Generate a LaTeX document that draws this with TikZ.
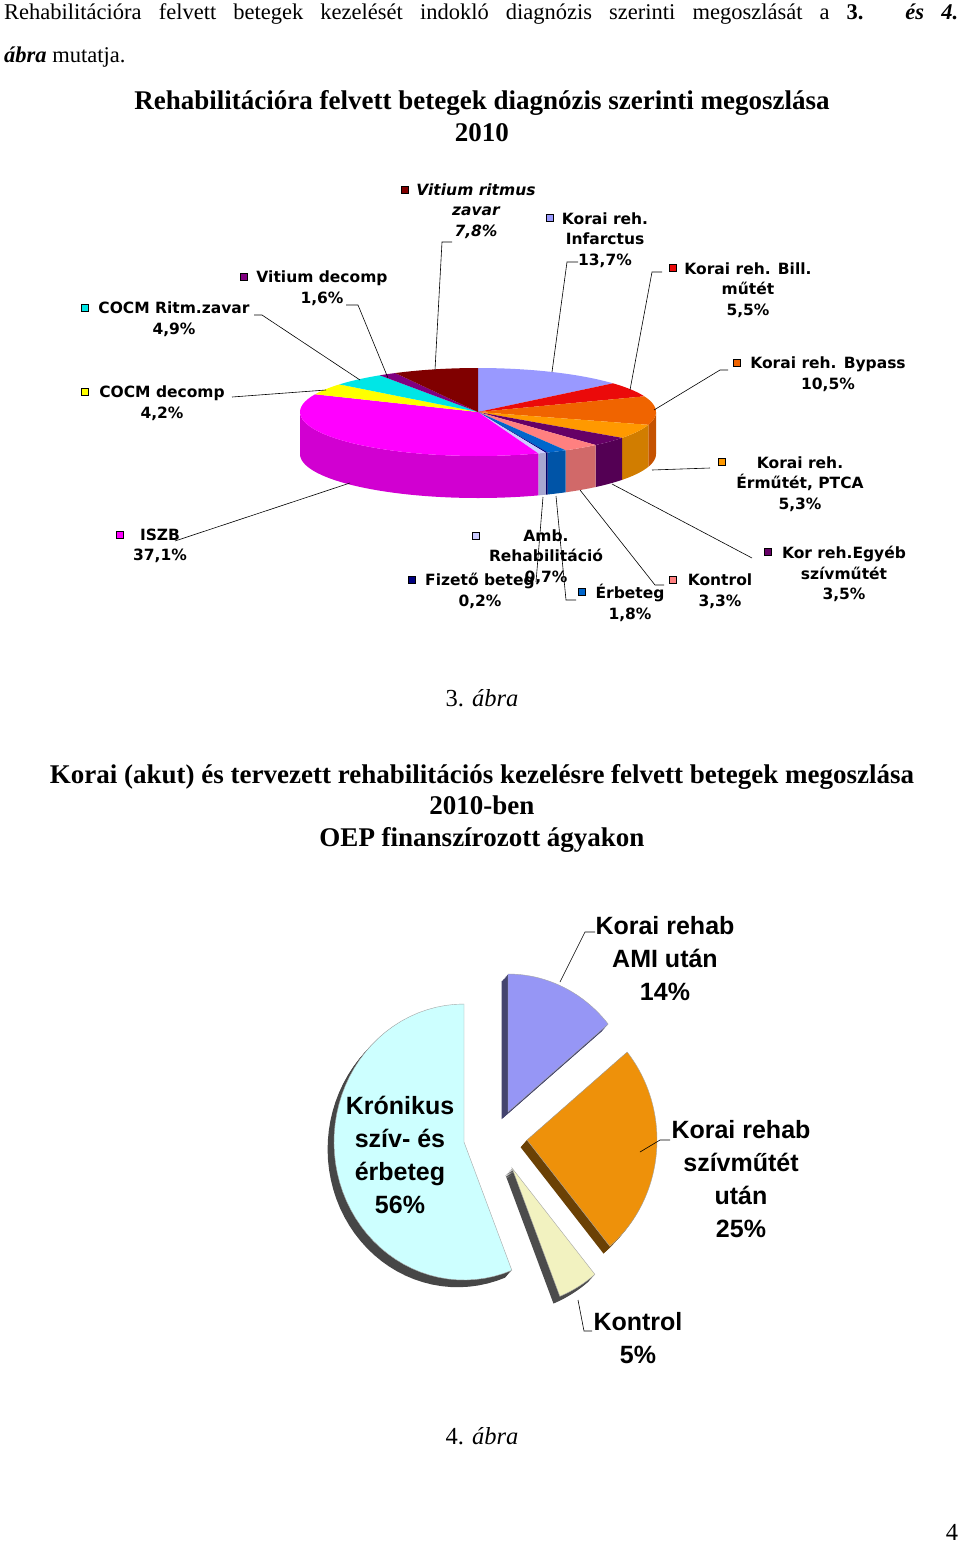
\documentclass[tikz,border=0pt]{standalone}
\usepackage{fontspec}
\setmainfont{Liberation Serif}
\newfontfamily\lab{DejaVu Sans}
\newfontfamily\labb{Liberation Sans}
\begin{document}
\begin{tikzpicture}[x=1pt,y=-1pt,
  lbl/.style={font=\lab\bfseries\fontsize{15.5}{20.5}\selectfont,align=center,inner sep=0pt},
  blbl/.style={font=\labb\bfseries\fontsize{25}{33}\selectfont,align=center,inner sep=0pt},
  lead/.style={draw=black,line width=0.6pt},
  sq/.style={draw=black,line width=0.4pt,minimum size=7pt,inner sep=0pt},
  ttl/.style={font=\bfseries\fontsize{27}{31.5}\selectfont,align=center,inner sep=0pt}]
\useasboundingbox (0,0) rectangle (960,1543);
\fill[white] (0,0) rectangle (960,1543);
% top paragraph
\node[anchor=base west,inner sep=0pt] (par) at (4,19) {\parbox[t]{954pt}{\fontsize{22.5}{43}\selectfont Rehabilitációra felvett betegek kezelését indokló diagnózis szerinti megoszlását a \textbf{3.} \textbf{\textit{és 4.}}\linebreak \textbf{\textit{ábra}} mutatja.}};
\node[ttl] (t1) at (482,116) {Rehabilitációra felvett betegek diagnózis szerinti megoszlása\\2010};
% ---------- pie 1
\def\cx{478}\def\cy{412}\def\rx{178}\def\ry{44}\def\dep{42}
\newcommand\pietop[3]{\fill[#3] (\cx,\cy) -- plot[domain=#1:#2,samples=40] ({\cx+\rx*cos(\x)},{\cy-\ry*sin(\x)}) -- cycle;}
\newcommand\pieside[3]{\fill[#3!82!black] plot[domain=#1:#2,samples=40] ({\cx+\rx*cos(\x)},{\cy-\ry*sin(\x)}) -- plot[domain=#2:#1,samples=40] ({\cx+\rx*cos(\x)},{\cy+\dep-\ry*sin(\x)}) -- cycle;}
\definecolor{cInf}{RGB}{153,153,255}
\definecolor{cBill}{RGB}{235,10,10}
\definecolor{cByp}{RGB}{240,100,0}
\definecolor{cPtca}{RGB}{255,153,0}
\definecolor{cEgy}{RGB}{102,0,102}
\definecolor{cKon}{RGB}{255,128,128}
\definecolor{cErb}{RGB}{0,102,204}
\definecolor{cFiz}{RGB}{0,0,128}
\definecolor{cAmb}{RGB}{204,204,255}
\definecolor{cIszb}{RGB}{255,0,255}
\definecolor{cCd}{RGB}{255,255,0}
\definecolor{cCr}{RGB}{0,230,230}
\definecolor{cVd}{RGB}{128,0,128}
\definecolor{cVr}{RGB}{128,0,0}
\pieside{-16.92}{0}{cByp}
\pieside{-36}{-16.92}{cPtca}
\pieside{-48.6}{-36}{cEgy}
\pieside{-60.48}{-48.6}{cKon}
\pieside{-66.96}{-60.48}{cErb}
\pieside{-67.68}{-66.96}{cFiz}
\pieside{-70.2}{-67.68}{cAmb}
\pieside{-180}{-70.2}{cIszb}
\pietop{40.68}{90}{cInf}
\pietop{20.88}{40.68}{cBill}
\pietop{-16.92}{20.88}{cByp}
\pietop{-36}{-16.92}{cPtca}
\pietop{-48.6}{-36}{cEgy}
\pietop{-60.48}{-48.6}{cKon}
\pietop{-66.96}{-60.48}{cErb}
\pietop{-67.68}{-66.96}{cFiz}
\pietop{-70.2}{-67.68}{cAmb}
\pietop{-203.76}{-70.2}{cIszb}
\pietop{-218.88}{-203.76}{cCd}
\pietop{-236.52}{-218.88}{cCr}
\pietop{-242.28}{-236.52}{cVd}
\pietop{-270}{-242.28}{cVr}
% labels pie 1
\node[sq,fill=cVr] (s1) at (405,190) {};
\node[lbl,font=\lab\bfseries\itshape\fontsize{15.5}{20.5}\selectfont] (l1) at (476,211) {Vitium ritmus\\zavar\\7,8\%};
\node[sq,fill=cInf] (s2) at (550,218) {};
\node[lbl] (l2) at (605,240) {Korai reh.\\Infarctus\\13,7\%};
\node[sq,fill=cBill] (s3) at (673,268) {};
\node[lbl] (l3) at (748,290) {Korai reh. Bill.\\műtét\\5,5\%};
\node[sq,fill=cByp] (s4) at (737,363) {};
\node[lbl] (l4) at (828,374) {Korai reh. Bypass\\10,5\%};
\node[sq,fill=cPtca] (s5) at (722,462) {};
\node[lbl] (l5) at (800,484) {Korai reh.\\Érműtét, PTCA\\5,3\%};
\node[sq,fill=cEgy] (s6) at (768,552) {};
\node[lbl] (l6) at (844,574) {Kor reh.Egyéb\\szívműtét\\3,5\%};
\node[sq,fill=cKon] (s7) at (673,580) {};
\node[lbl] (l7) at (720,591) {Kontrol\\3,3\%};
\node[sq,fill=cErb] (s8) at (582,592) {};
\node[lbl] (l8) at (630,603) {Érbeteg\\1,8\%};
\node[sq,fill=cFiz] (s9) at (412,580) {};
\node[lbl] (l9) at (480,591) {Fizető beteg\\0,2\%};
\node[sq,fill=cAmb] (s10) at (476,536) {};
\node[lbl] (l10) at (546,557) {Amb.\\Rehabilitáció\\0,7\%};
\node[sq,fill=cIszb] (s11) at (120,535) {};
\node[lbl] (l11) at (160,546) {ISZB\\37,1\%};
\node[sq,fill=cCd] (s12) at (85,392) {};
\node[lbl] (l12) at (162,403) {COCM decomp\\4,2\%};
\node[sq,fill=cCr] (s13) at (85,308) {};
\node[lbl] (l13) at (174,319) {COCM Ritm.zavar\\4,9\%};
\node[sq,fill=cVd] (s14) at (244,277) {};
\node[lbl] (l14) at (322,288) {Vitium decomp\\1,6\%};
% leaders
\coordinate (p1) at (435,370); \coordinate (q1) at (442,242); \coordinate (r1) at (452,242);
\draw[lead] (p1) -- (q1) -- (r1);
\coordinate (p2) at (552,372); \coordinate (q2) at (567,262); \coordinate (r2) at (578,262);
\draw[lead] (p2) -- (q2) -- (r2);
\coordinate (p3) at (630,390); \coordinate (q3) at (652,272); \coordinate (r3) at (662,272);
\draw[lead] (p3) -- (q3) -- (r3);
\coordinate (p4) at (654,410); \coordinate (q4) at (720,370); \coordinate (r4) at (728,370);
\draw[lead] (p4) -- (q4) -- (r4);
\coordinate (p5) at (652,470); \coordinate (q5) at (710,468);
\draw[lead] (p5) -- (q5);
\coordinate (p6) at (612,484); \coordinate (q6) at (752,558);
\draw[lead] (p6) -- (q6);
\coordinate (p7) at (580,490); \coordinate (q7) at (655,585); \coordinate (r7) at (664,585);
\draw[lead] (p7) -- (q7) -- (r7);
\coordinate (p8) at (556,496); \coordinate (q8) at (566,600); \coordinate (r8) at (576,600);
\draw[lead] (p8) -- (q8) -- (r8);
\coordinate (p9) at (543,497); \coordinate (q9) at (536,582);
\draw[lead] (p9) -- (q9);
\coordinate (p11) at (350,483); \coordinate (q11) at (175,541);
\draw[lead] (p11) -- (q11);
\coordinate (p12) at (326,390); \coordinate (q12) at (232,397);
\draw[lead] (p12) -- (q12);
\coordinate (p13) at (360,380); \coordinate (q13) at (262,315); \coordinate (r13) at (254,315);
\draw[lead] (p13) -- (q13) -- (r13);
\coordinate (p14) at (388,378); \coordinate (q14) at (358,305); \coordinate (r14) at (346,305);
\draw[lead] (p14) -- (q14) -- (r14);
\node[inner sep=0pt,font=\fontsize{24.5}{26}\selectfont] (a3) at (482,698) {3. \textit{ábra}};
\node[ttl] (t2) at (482,808) {Korai (akut) és tervezett rehabilitációs kezelésre felvett betegek megoszlása\\2010-ben\\OEP finanszírozott ágyakon};
% ---------- pie 2
\def\ra{130}\def\rb{138}
\newcommand\pslice[6]{%
  \foreach \s in {1,...,8}{\fill[#6] ({#1-0.8*\s},{#2+0.9*\s}) -- plot[domain=#3:#4,samples=50] ({#1-0.8*\s+\ra*cos(\x)},{#2+0.9*\s-\rb*sin(\x)}) -- cycle;}
  \fill[#5,draw=gray!70,line width=0.4pt] (#1,#2) -- plot[domain=#3:#4,samples=50] ({#1+\ra*cos(\x)},{#2-\rb*sin(\x)}) -- cycle;}
\definecolor{kLav}{RGB}{150,150,245}
\definecolor{kOr}{RGB}{238,145,10}
\definecolor{kKon}{RGB}{242,242,192}
\definecolor{kCy}{RGB}{205,255,255}
\pslice{464}{1142}{90}{291.6}{kCy}{gray!55!black}
\pslice{508}{1112}{39.6}{90}{kLav}{kLav!45!black}
\pslice{527}{1140}{-50.4}{39.6}{kOr}{kOr!45!black}
\pslice{512}{1168}{-68.4}{-50.4}{kKon}{gray!60!black}
\node[blbl] (m1) at (665,959) {Korai rehab\\AMI után\\14\%};
\node[blbl] (m2) at (400,1155) {Krónikus\\szív- és\\érbeteg\\56\%};
\node[blbl] (m3) at (741,1179) {Korai rehab\\szívműtét\\után\\25\%};
\node[blbl] (m4) at (638,1338) {Kontrol\\5\%};
\coordinate (u1) at (560,982); \coordinate (v1) at (585,932); \coordinate (w1) at (595,932);
\draw[lead] (u1) -- (v1) -- (w1);
\coordinate (u3) at (640,1152); \coordinate (v3) at (660,1140); \coordinate (w3) at (670,1140);
\draw[lead] (u3) -- (v3) -- (w3);
\coordinate (u4) at (578,1300); \coordinate (v4) at (584,1331); \coordinate (w4) at (592,1331);
\draw[lead] (u4) -- (v4) -- (w4);
\node[inner sep=0pt,font=\fontsize{24.5}{26}\selectfont] (a4) at (482,1436) {4. \textit{ábra}};
\node[inner sep=0pt,font=\fontsize{24.5}{26}\selectfont] (pg) at (952,1532) {4};
\end{tikzpicture}
\end{document}
